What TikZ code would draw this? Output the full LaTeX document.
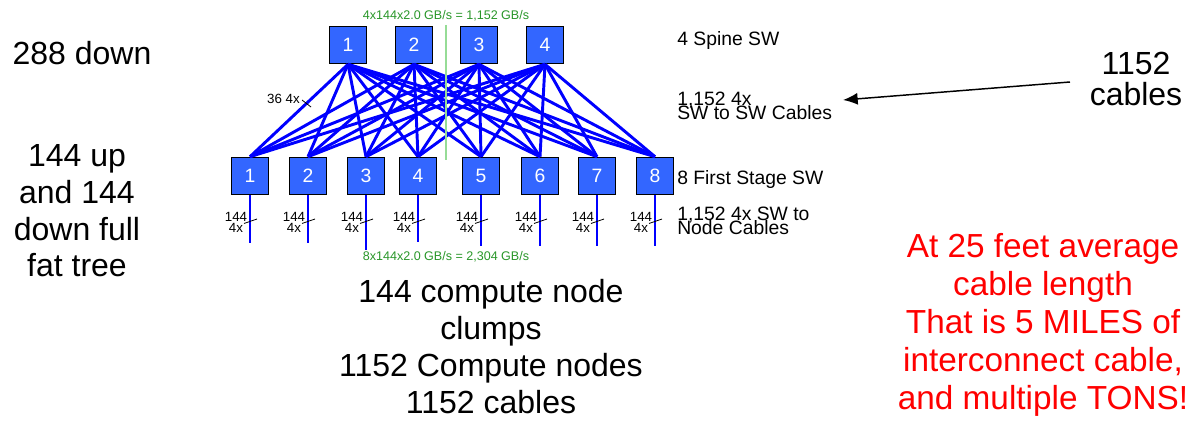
\documentclass[tikz,border=0pt]{standalone}
\usepackage{fontspec}
\setmainfont{Liberation Sans}
\usetikzlibrary{arrows.meta}
\usepackage{xcolor}
\definecolor{swfill}{RGB}{51,102,255}
\definecolor{linkblue}{RGB}{0,0,255}
\definecolor{rategreen}{RGB}{40,150,40}
\definecolor{midgreen}{RGB}{150,220,150}

\begin{document}
\begin{tikzpicture}[x=0.75pt,y=-0.75pt]

    \tikzset{switch/.style = {shape=rectangle,draw=black,line width=1.2pt,fill=swfill,text=white,minimum size=27.75pt,inner sep=0pt,font=\fontsize{14.5}{16}\selectfont}}
    \tikzset{link/.style = {draw=linkblue,line width=2.2pt}}
    \tikzset{nodelink/.style = {draw=linkblue,line width=1.4pt}}
    \tikzset{tickmark/.style = {draw=black,line width=0.6pt}}
    \tikzset{count/.style = {inner sep=0pt,align=center,anchor=base,font={\fontsize{10}{8.5}\selectfont\lineskiplimit=-20pt}}}
    \tikzset{rate/.style = {inner sep=0pt,text=rategreen,font=\fontsize{9.4}{11}\selectfont}}
    \tikzset{sidetext/.style = {inner sep=0pt,align=left,anchor=base west,font={\fontsize{14.5}{10.8}\selectfont\lineskiplimit=-20pt}}}
    \tikzset{bigtext/.style = {inner sep=0pt,align=center,anchor=base,font=\fontsize{24}{27.6}\selectfont}}
    \useasboundingbox (0,0) rectangle (1191,423);

    \node[switch] (S1) at (348,45) {1};
    \node[switch] (S2) at (414,45) {2};
    \node[switch] (S3) at (479,45) {3};
    \node[switch] (S4) at (545,45) {4};
    \foreach \i/\x/\e in {1/250/243,2/308/243,3/366/250,4/418/242,5/481/246,6/540/246,7/597/246,8/655/246} {
        \node[switch] (L\i) at (\x,176) {\i};
        \coordinate (D\i) at (\x,\e);
        \coordinate (T\i) at (\x,221);
        \node[count] (C\i) at (\x-14,233) {144\\4x};
    }
    %edges
    \foreach \s in {1,...,4}
        \foreach \l in {1,...,8}
            \draw[link] (S\s.south) to (L\l.north);
    \foreach \i in {1,...,8} {
        \draw[nodelink] (L\i.south) to (D\i);
        \draw[tickmark] ([shift={(-6,2.5)}]T\i) -- ([shift={(7,-2)}]T\i);
    }
    %bisection
    \coordinate (mtop) at (446,25);
    \coordinate (mbot) at (446,160);
    \draw[midgreen,line width=1.1pt] (mtop) -- (mbot);
    \node[rate,anchor=base] (uprate) at (446,20) {4x144x2.0 GB/s = 1,152 GB/s};
    \node[rate,anchor=base] (downrate) at (446,261) {8x144x2.0 GB/s = 2,304 GB/s};
    %spine cable count
    \coordinate (cut) at (306,103);
    \draw[tickmark] ([shift={(-4,-3)}]cut) -- ([shift={(5,4)}]cut);
    \node[count,anchor=base east] (bundle) at (300,104) {36 4x};
    %right side
    \node[sidetext] (spinelab) at (677,46) {4 Spine SW};
    \node[sidetext] (swlab) at (677,120) {1,152 4x\\SW to SW Cables};
    \node[sidetext] (leaflab) at (677,185) {8 First Stage SW};
    \node[sidetext] (nodelab) at (677,235) {1,152 4x SW to\\Node Cables};
    \node[bigtext,font=\fontsize{24}{23.5}\selectfont] (cables) at (1136,106) {1152\\cables};
    \coordinate (tail) at (1070,82);
    \draw[line width=1.1pt,-{Latex[length=11pt,width=9pt]}] (tail) -- (843,100);
    %left side
    \node[bigtext] (down) at (82,65) {288 down};
    \node[bigtext] (fattree) at (77,277) {144 up\\and 144\\down full\\fat tree};
    %bottom
    \node[bigtext] (clumps) at (491,413) {144 compute node\\clumps\\1152 Compute nodes\\1152 cables};
    \node[bigtext,text=red,font=\fontsize{25}{28.5}\selectfont] (tons) at (1043,410) {At 25 feet average\\cable length\\That is 5 MILES of\\interconnect cable,\\and multiple TONS!};
\end{tikzpicture}
\end{document}
